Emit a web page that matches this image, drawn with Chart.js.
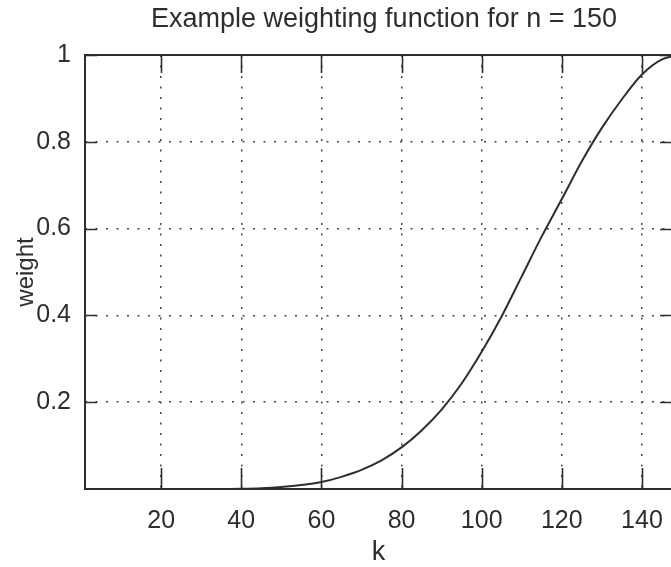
<!DOCTYPE html>
<html lang="en">
<head>
  <meta charset="UTF-8">
  <title>Example weighting function</title>
  <script src="https://cdn.jsdelivr.net/npm/chart.js@4.4.3/dist/chart.umd.min.js"></script>
  <style>
    html, body { margin: 0; padding: 0; background: #fff; overflow: hidden; }
    #wrap { width: 671px; height: 567px; overflow: hidden; }
  </style>
</head>
<body>
  <div id="wrap">
    <canvas id="weight-chart" width="768" height="567"></canvas>
  </div>

  <script>
    // weight curve sampled along k
    const kValues = [1, 5, 10, 15, 20, 25, 30, 35, 40, 45, 50, 55, 60, 65, 70, 75,
                     80, 85, 90, 95, 100, 105, 110, 115, 120, 125, 130, 135, 140, 145, 150];
    const weightValues = [0, 0, 0, 0, 0, 0, 0, 0.0001, 0.0005, 0.0018, 0.0045, 0.009, 0.016, 0.028, 0.044, 0.066,
                          0.096, 0.135, 0.183, 0.243, 0.316, 0.398, 0.49, 0.582, 0.668, 0.755, 0.832, 0.898, 0.955, 0.99, 1.0];

    const xTicks = [20, 40, 60, 80, 100, 120, 140];
    const yTicks = [0.2, 0.4, 0.6, 0.8, 1];

    const FONT = "'Liberation Sans', Arial, sans-serif";
    const INK = '#2e2e2e';

    // gnuplot-style frame with inward tick marks on all four sides
    const frameTicks = {
      id: 'frameTicks',
      afterDraw(chart) {
        const { ctx, chartArea: a, scales: { x, y } } = chart;
        ctx.save();
        ctx.strokeStyle = INK;
        ctx.lineWidth = 2;
        ctx.strokeRect(a.left, a.top, a.right - a.left, a.bottom - a.top);
        ctx.lineWidth = 1.6;
        ctx.beginPath();
        xTicks.forEach(v => {
          const px = Math.round(x.getPixelForValue(v)) + 0.5;
          ctx.moveTo(px, a.bottom); ctx.lineTo(px, a.bottom - 21);
          ctx.moveTo(px, a.top); ctx.lineTo(px, a.top + 18);
        });
        yTicks.forEach(v => {
          const py = Math.round(y.getPixelForValue(v)) + 0.5;
          ctx.moveTo(a.left, py); ctx.lineTo(a.left + 12, py);
          ctx.moveTo(a.right, py); ctx.lineTo(a.right - 12, py);
        });
        ctx.stroke();
        ctx.restore();
      }
    };

    const ctx = document.getElementById('weight-chart').getContext('2d');
    new Chart(ctx, {
      type: 'line',
      data: {
        datasets: [{
          data: kValues.map((k, i) => ({ x: k, y: weightValues[i] })),
          borderColor: INK,
          borderWidth: 2,
          pointRadius: 0,
          fill: false,
          cubicInterpolationMode: 'monotone'
        }]
      },
      options: {
        responsive: false,
        animation: false,
        devicePixelRatio: 1,
        layout: { padding: 0 },
        plugins: {
          legend: { display: false },
          tooltip: { enabled: false },
          title: {
            display: true,
            text: 'Example weighting function for n = 150',
            color: INK,
            font: { family: FONT, size: 27, weight: 'normal' },
            padding: { top: 3, bottom: 19.6 }
          }
        },
        scales: {
          x: {
            type: 'linear',
            min: 1,
            max: 147.5,
            afterBuildTicks: axis => { axis.ticks = xTicks.map(v => ({ value: v })); },
            afterFit: scale => { scale.height = 78; },
            ticks: {
              color: INK,
              padding: 17,
              maxRotation: 0,
              font: { family: FONT, size: 25 },
              callback: v => String(v)
            },
            grid: { color: '#444', lineWidth: 1.5, drawTicks: false },
            border: { display: false, dash: [2, 8.5] },
            title: {
              display: true,
              text: 'k',
              color: INK,
              font: { family: FONT, size: 27 },
              padding: { top: 0, bottom: -2 }
            }
          },
          y: {
            type: 'linear',
            min: 0,
            max: 1,
            afterBuildTicks: axis => { axis.ticks = yTicks.map(v => ({ value: v })); },
            afterFit: scale => { scale.width = 85; },
            ticks: {
              color: INK,
              padding: 14,
              font: { family: FONT, size: 25 },
              callback: v => String(v)
            },
            grid: { color: '#444', lineWidth: 1.5, drawTicks: false },
            border: { display: false, dash: [2, 8.5] },
            title: {
              display: true,
              text: 'weight',
              color: INK,
              font: { family: FONT, size: 24 },
              padding: { top: 12, bottom: 0 }
            }
          },
          // blank strip on the right; the plot runs on past the visible edge
          yRight: {
            position: 'right',
            display: true,
            afterFit: scale => { scale.width = 96; },
            ticks: { display: false },
            grid: { display: false },
            border: { display: false }
          }
        }
      },
      plugins: [frameTicks]
    });
  </script>
</body>
</html>
